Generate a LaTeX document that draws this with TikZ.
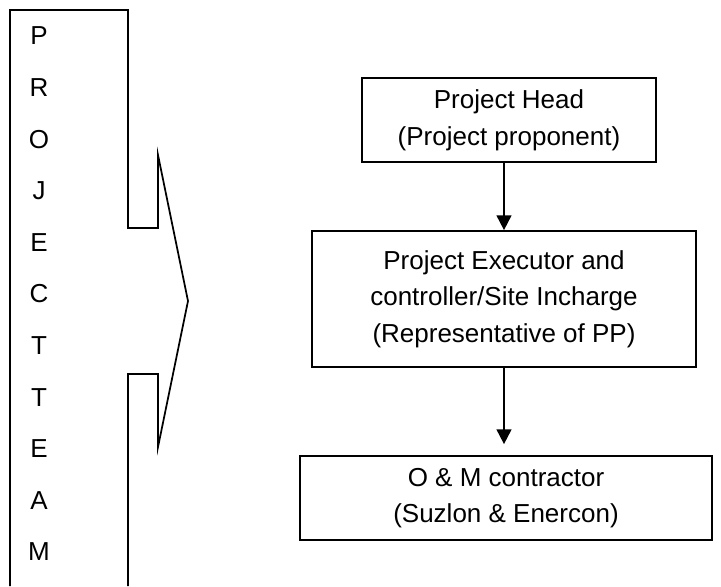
\documentclass[tikz,border=0pt]{standalone}
\usepackage{fontspec}
\setmainfont{Liberation Sans}
\usetikzlibrary{arrows.meta}
\tikzset{
  orgbox/.style={draw,line width=1.3pt,align=center,inner sep=0pt,font=\fontsize{19.5}{27.5}\selectfont},
  link/.style={-{Triangle[length=11pt,width=11pt]},line width=1.4pt},
  teamtxt/.style={font=\fontsize{19.5}{24}\selectfont,inner sep=0pt},
}

\begin{document}
\begin{tikzpicture}[x=0.75pt,y=-0.75pt]
\useasboundingbox (0,0) rectangle (721,586);
% team bracket with its arrow
\draw[line width=1.3pt] (10,586) -- (10,10) -- (128,10) -- (128,228) -- (158,228) -- (158,155)
  -- (188,301) -- (158,447) -- (158,374) -- (128,374) -- (128,586);
\foreach \ch [count=\i] in {P,R,O,J,E,C,T,T,E,A,M}
  \node[teamtxt] (t\i) at (39,{36+51.6*(\i-1)}) {\ch};
% chain of command
\node[orgbox,minimum width=220.5pt,minimum height=63pt] (head) at (509,120) {Project Head\\(Project proponent)};
\node[orgbox,minimum width=288pt,minimum height=102pt] (exec) at (504,299) {Project Executor and\\controller/Site Incharge\\(Representative of PP)};
\node[orgbox,minimum width=309pt,minimum height=63pt] (om) at (506,498) {O \& M contractor\\(Suzlon \& Enercon)};
\draw[link] (head.south -| exec) -- (exec.north);
\draw[link] (exec.south) -- ([yshift=8.25pt]om.north -| exec);
\end{tikzpicture}
\end{document}
